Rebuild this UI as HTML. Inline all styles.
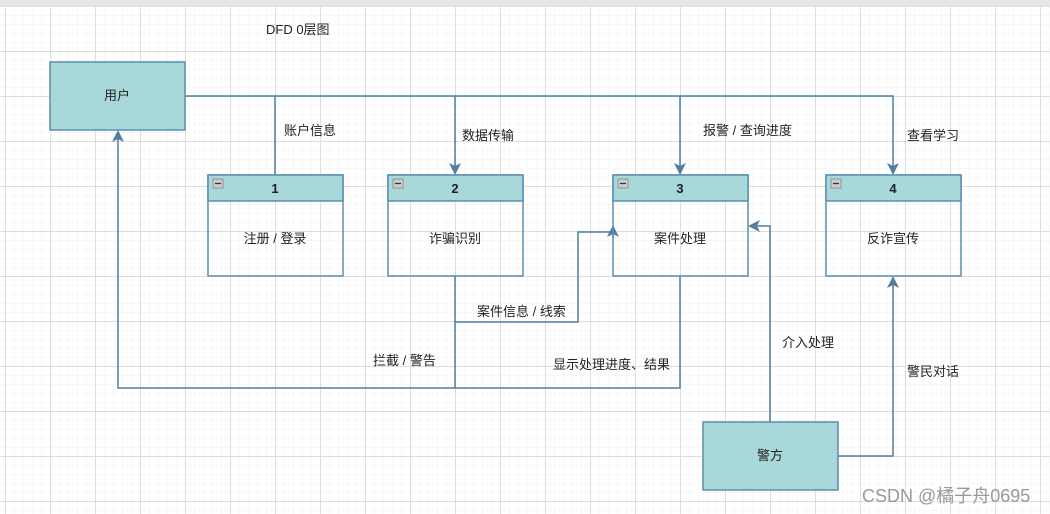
<!DOCTYPE html>
<html><head><meta charset="utf-8"><style>
html,body{margin:0;padding:0;background:#fff}
svg{display:block}
text{font-family:"Liberation Sans","Noto Sans CJK SC",sans-serif;font-size:13px;fill:#222}
</style></head><body>
<svg width="1050" height="514" viewBox="0 0 1050 514" xmlns="http://www.w3.org/2000/svg">
<defs>
<pattern id="mi" x="5" y="6" width="9" height="9" patternUnits="userSpaceOnUse">
<path d="M0 0H9M0 0V9" stroke="#f0f0f0" stroke-width="1" fill="none"/></pattern>
<pattern id="ma" x="5" y="6" width="45" height="45" patternUnits="userSpaceOnUse">
<path d="M0 0.5H45M0.5 0V45" stroke="#dedede" stroke-width="1" fill="none"/></pattern>
</defs>
<rect width="1050" height="514" fill="url(#mi)"/>
<rect width="1050" height="514" fill="url(#ma)"/>
<rect width="1050" height="6" fill="#e6e6e6"/>
<text x="266" y="34">DFD 0层图</text>

<g stroke="#4f7ea0" stroke-width="1.5" fill="none">
<path d="M185 96H893V166"/>
<path d="M275 96V175"/>
<path d="M455 96V166"/>
<path d="M680 96V166"/>
<path d="M455 276V388"/>
<path d="M680 276V388H118V139"/>
<path d="M455 322H578V232H613V237"/>
<path d="M770 422V226H757"/>
<path d="M838 456H893V285"/>
</g>
<g fill="#4f7ea0">
<path d="M887 163L893 175L899 163L893 166Z"/>
<path d="M449 163L455 175L461 163L455 166Z"/>
<path d="M674 163L680 175L686 163L680 166Z"/>
<path d="M112 142L118 130L124 142L118 139Z"/>
<path d="M607 237L613 225L619 237L613 234Z"/>
<path d="M760 220L748 226L760 232L757 226Z"/>
<path d="M887 288L893 276L899 288L893 285Z"/>
</g>

<g stroke="#5b8db0" stroke-width="1.5">
<rect x="50" y="62" width="135" height="68" fill="#a8d8da"/>
<rect x="703" y="422" width="135" height="68" fill="#a8d8da"/>
<g fill="none">
<rect x="208" y="175" width="135" height="101"/>
<rect x="388" y="175" width="135" height="101"/>
<rect x="613" y="175" width="135" height="101"/>
<rect x="826" y="175" width="135" height="101"/>
</g>
<g fill="#a8d8da">
<rect x="208" y="175" width="135" height="26"/>
<rect x="388" y="175" width="135" height="26"/>
<rect x="613" y="175" width="135" height="26"/>
<rect x="826" y="175" width="135" height="26"/>
</g>
</g>
<g fill="#ccc" stroke="#888" stroke-width="0.8">
<rect x="213" y="179" width="10" height="9"/>
<rect x="393" y="179" width="10" height="9"/>
<rect x="618" y="179" width="10" height="9"/>
<rect x="831" y="179" width="10" height="9"/>
</g>
<g stroke="#333" stroke-width="1.2"><path d="M215 183.5H221M395 183.5H401M620 183.5H626M833 183.5H839"/></g>

<g text-anchor="middle">
<text x="117" y="100">用户</text>
<text x="770" y="460">警方</text>
<text x="275" y="193" font-weight="bold">1</text>
<text x="455" y="193" font-weight="bold">2</text>
<text x="680" y="193" font-weight="bold">3</text>
<text x="893" y="193" font-weight="bold">4</text>
<text x="275" y="243">注册 / 登录</text>
<text x="455" y="243">诈骗识别</text>
<text x="680" y="243">案件处理</text>
<text x="893" y="243">反诈宣传</text>
</g>
<text x="284" y="135">账户信息</text>
<text x="462" y="140">数据传输</text>
<text x="703" y="135">报警 / 查询进度</text>
<text x="907" y="140">查看学习</text>
<text x="477" y="316">案件信息 / 线索</text>
<text x="373" y="365">拦截 / 警告</text>
<text x="553" y="369">显示处理进度、结果</text>
<text x="782" y="347">介入处理</text>
<text x="907" y="376">警民对话</text>
<text x="862" y="502" style="font-size:18px;fill:#999">CSDN @橘子舟0695</text>
</svg>
</body></html>
